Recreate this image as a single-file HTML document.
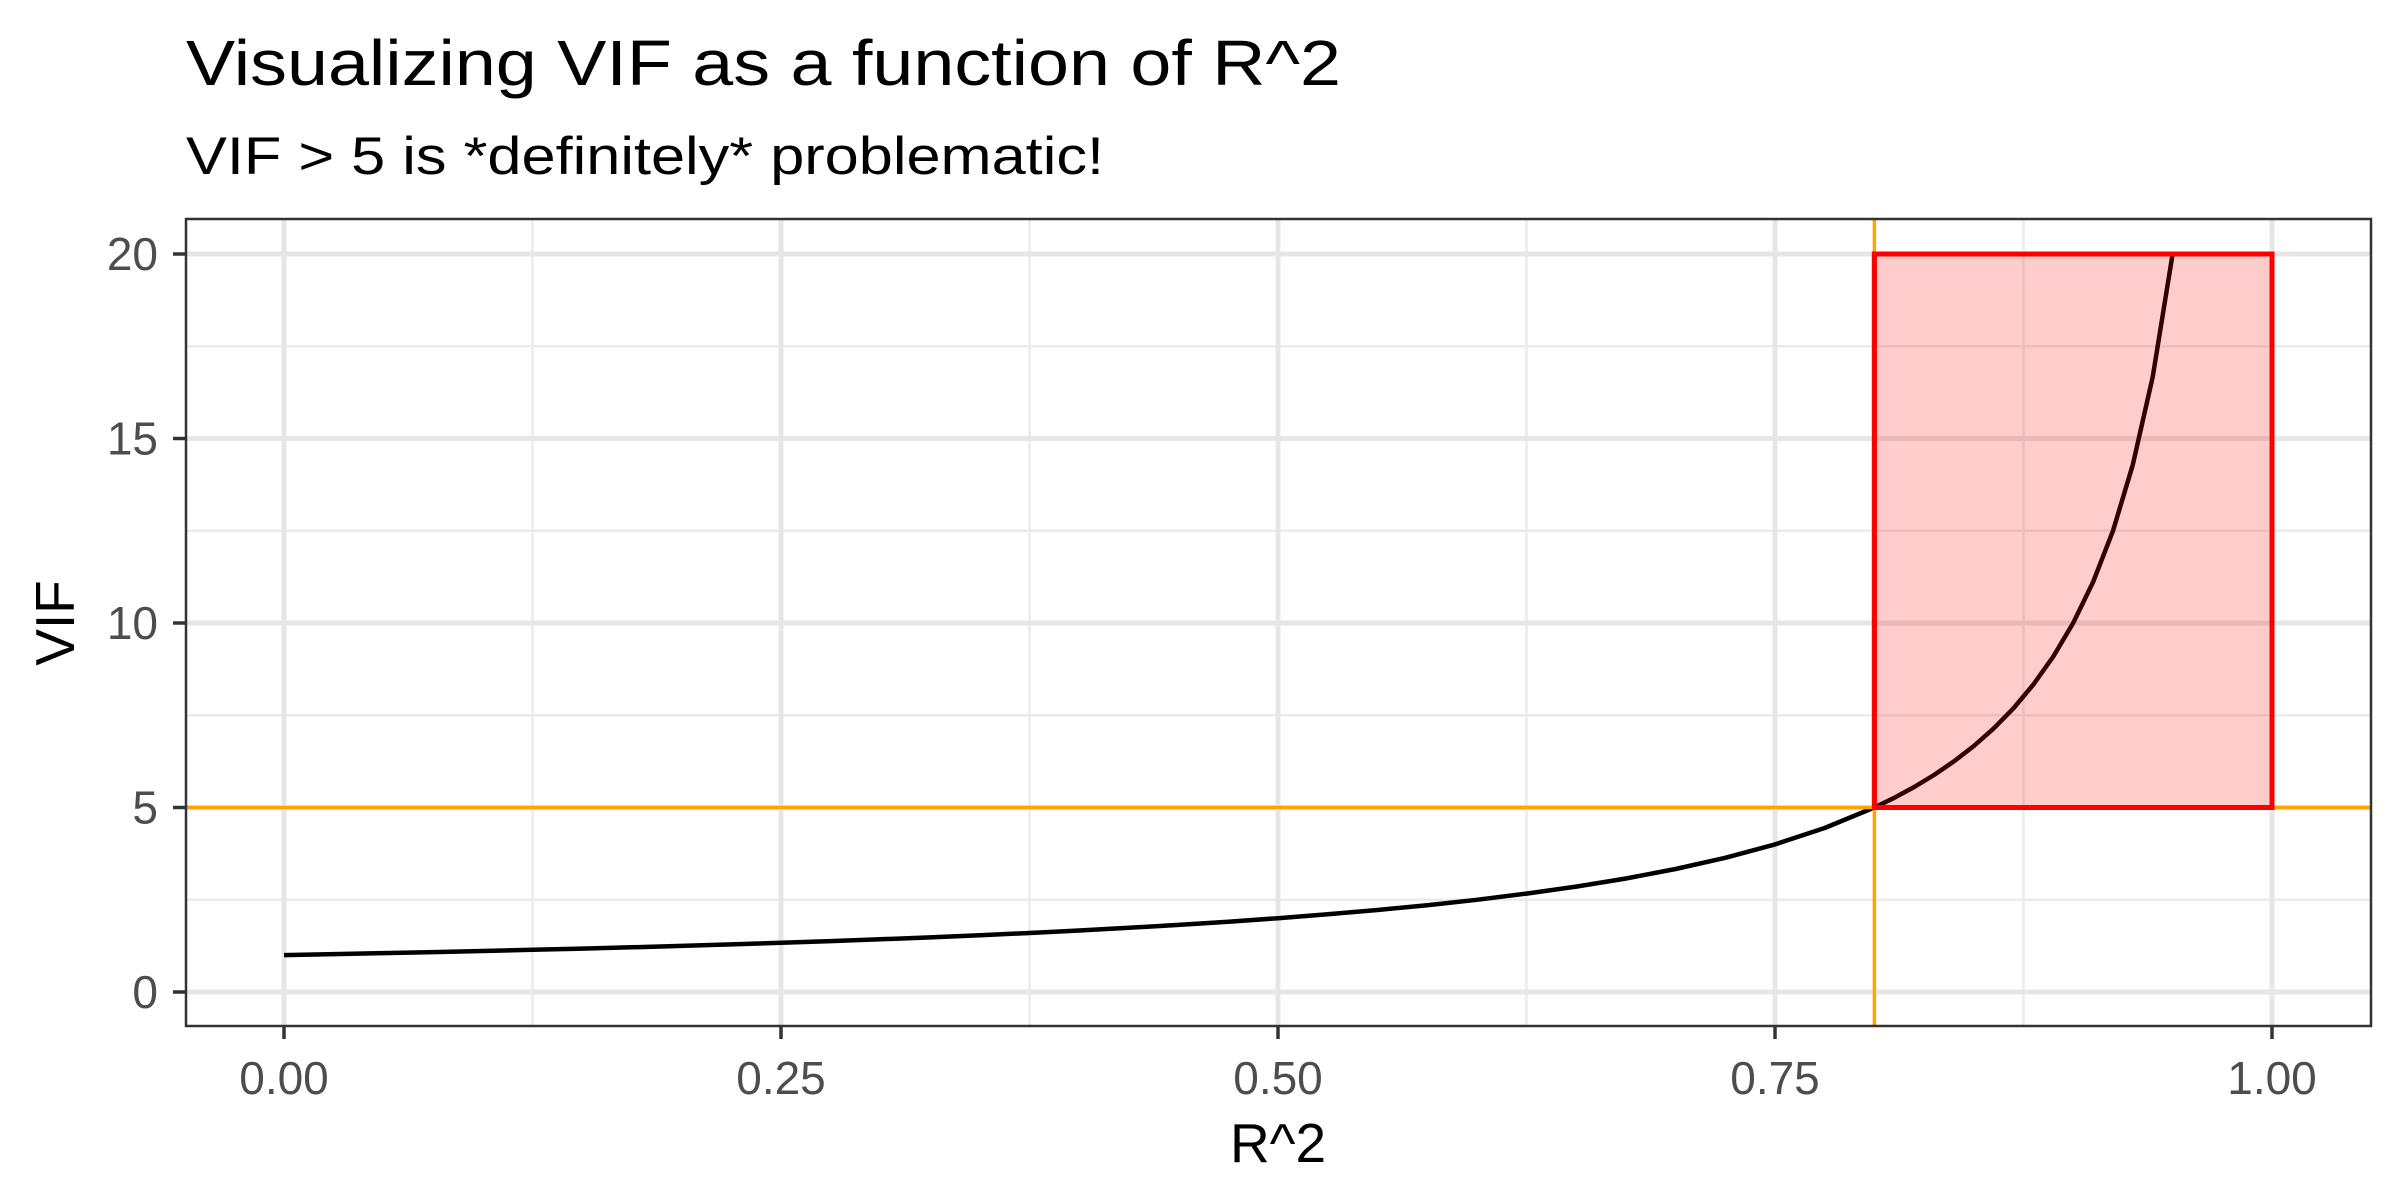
<!DOCTYPE html>
<html><head><meta charset="utf-8"><style>
html,body{margin:0;padding:0;background:#fff}
svg{display:block}
text{font-family:"Liberation Sans",sans-serif}
</style></head><body>
<svg id="chart" width="2400" height="1200" viewBox="0 0 2400 1200">
<text x="186" y="85" font-size="64" fill="#000" textLength="1155" lengthAdjust="spacingAndGlyphs">Visualizing VIF as a function of R^2</text>
<text x="186" y="174" font-size="53" fill="#000" textLength="918" lengthAdjust="spacingAndGlyphs">VIF &gt; 5 is *definitely* problematic!</text>
<g id="grid"></g>
<g id="marks"></g>
<rect x="186" y="219" width="2185" height="807" fill="none" stroke="#333" stroke-width="2.5"/>
<g id="axes"></g>
<text x="1278" y="1162" font-size="55" text-anchor="middle" fill="#000">R^2</text>
<text transform="translate(74,623) rotate(-90)" font-size="55" text-anchor="middle" fill="#000">VIF</text>
</svg>
<script>
const xTicks = [0, 0.25, 0.5, 0.75, 1];
const xTickLabels = ["0.00", "0.25", "0.50", "0.75", "1.00"];
const yTicks = [0, 5, 10, 15, 20];
const yTickLabels = ["0", "5", "10", "15", "20"];
const curveX = [0,0.025,0.05,0.075,0.1,0.125,0.15,0.175,0.2,0.225,0.25,0.275,0.3,0.325,0.35,0.375,0.4,0.425,0.45,0.475,0.5,0.525,0.55,0.575,0.6,0.625,0.65,0.675,0.7,0.725,0.75,0.775,0.8,0.81,0.82,0.83,0.84,0.85,0.86,0.87,0.88,0.89,0.9,0.91,0.92,0.93,0.94,0.95];
const curveVIF = [1,1.026,1.053,1.081,1.111,1.143,1.176,1.212,1.25,1.29,1.333,1.379,1.429,1.481,1.538,1.6,1.667,1.739,1.818,1.905,2,2.105,2.222,2.353,2.5,2.667,2.857,3.077,3.333,3.636,4,4.444,5,5.263,5.556,5.882,6.25,6.667,7.143,7.692,8.333,9.091,10,11.111,12.5,14.286,16.667,20];
const thresholdR2 = [0.8];
const thresholdVIF = [5];
const regionX = [0.8, 1];
const regionY = [5, 20];

const NS = "http://www.w3.org/2000/svg";
const PL = 186, PR = 2371, PT = 219, PB = 1026;
const sx = v => 284 + v * 1988;
const sy = v => 992 - v * 36.9;
function mk(parent, tag, attrs) {
  const e = document.createElementNS(NS, tag);
  for (const k in attrs) e.setAttribute(k, attrs[k]);
  document.getElementById(parent).appendChild(e);
  return e;
}
for (let i = 0; i < xTicks.length - 1; i++) {
  const m = (xTicks[i] + xTicks[i+1]) / 2;
  const g = mk("grid", "line", {x1: sx(m), x2: sx(m), y1: PT, y2: PB, stroke: "#ebebeb", "stroke-width": 2.5});
  
  
}
for (let i = 0; i < yTicks.length - 1; i++) {
  const m = (yTicks[i] + yTicks[i+1]) / 2;
  const g = mk("grid", "line", {x1: PL, x2: PR, y1: sy(m), y2: sy(m), stroke: "#ebebeb", "stroke-width": 2.5});
  
  
}
xTicks.forEach((t, i) => {
  const g = mk("grid", "line", {x1: sx(t), x2: sx(t), y1: PT, y2: PB, stroke: "#e6e6e6", "stroke-width": 5});
  
  
  const tk = mk("axes", "line", {x1: sx(t), x2: sx(t), y1: PB, y2: PB + 13, stroke: "#333", "stroke-width": 3.5});
  
  
  const tx = mk("axes", "text", {x: sx(t), y: 1094, "font-size": 46, "text-anchor": "middle", fill: "#4d4d4d"});
  tx.textContent = xTickLabels[i];
  
  
});
yTicks.forEach((t, i) => {
  const g = mk("grid", "line", {x1: PL, x2: PR, y1: sy(t), y2: sy(t), stroke: "#e6e6e6", "stroke-width": 5});
  
  
  const tk = mk("axes", "line", {x1: PL - 13, x2: PL, y1: sy(t), y2: sy(t), stroke: "#333", "stroke-width": 3.5});
  
  
  const tx = mk("axes", "text", {x: 158, y: sy(t) + 16, "font-size": 46, "text-anchor": "end", fill: "#4d4d4d"});
  tx.textContent = yTickLabels[i];
  
  
});
const d = curveX.map((x, i) => (i ? "L" : "M") + sx(x).toFixed(1) + "," + sy(curveVIF[i]).toFixed(1)).join(" ");
const c = mk("marks", "path", {d: d, fill: "none", stroke: "#000", "stroke-width": 4.5, "stroke-linejoin": "round"});


const r = mk("marks", "rect", {x: sx(regionX[0]), y: sy(regionY[1]), width: sx(regionX[1]) - sx(regionX[0]), height: sy(regionY[0]) - sy(regionY[1]), fill: "rgba(255,0,0,0.2)", stroke: "#ff0000", "stroke-width": 5});


const h = mk("marks", "line", {x1: PL, x2: PR, y1: sy(thresholdVIF[0]), y2: sy(thresholdVIF[0]), stroke: "#ffa500", "stroke-width": 3.5});


const v = mk("marks", "line", {x1: sx(thresholdR2[0]), x2: sx(thresholdR2[0]), y1: PT, y2: PB, stroke: "#ffa500", "stroke-width": 3.5});


// redraw rect outline over the orange lines
const r2 = mk("marks", "rect", {x: sx(regionX[0]), y: sy(regionY[1]), width: sx(regionX[1]) - sx(regionX[0]), height: sy(regionY[0]) - sy(regionY[1]), fill: "none", stroke: "#ff0000", "stroke-width": 5});


</script>
</body></html>
